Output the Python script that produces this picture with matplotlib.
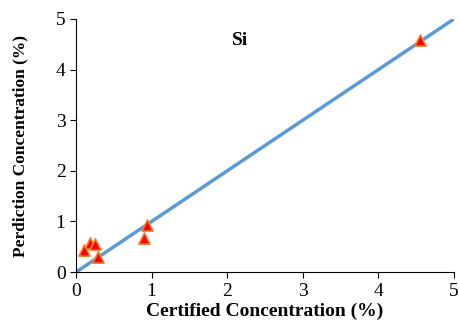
import matplotlib
matplotlib.use("Agg")
import matplotlib.pyplot as plt

certified = [4.55, 0.94, 0.90, 0.29, 0.19, 0.25, 0.11]
predicted = [4.58, 0.93, 0.67, 0.30, 0.58, 0.55, 0.43]
fit_x = [0, 5]
fit_y = [0, 5]
ticks = [0, 1, 2, 3, 4, 5]

plt.rcParams['font.family'] = ['Liberation Serif', 'DejaVu Serif']

fig = plt.figure(figsize=(4.59, 3.22), dpi=100)
ax = fig.add_axes([0.1656, 0.155, 0.8234, 0.786])

ax.plot(fit_x, fit_y, color='#5B9BD5', linewidth=2.5, zorder=2)
ax.scatter(certified, predicted, marker='^', s=65, color='#FF0000',
           edgecolors='#F08030', linewidths=1.2, zorder=3)

ax.set_xlim(0, 5)
ax.set_ylim(0, 5)
ax.set_xticks(ticks)
ax.set_yticks(ticks)
ax.tick_params(direction='out', length=4, labelsize=14, width=0.8)
for s in ['top', 'right']:
    ax.spines[s].set_visible(False)
ax.set_xlabel('Certified Concentration (%)', fontsize=14, fontweight='bold', labelpad=2)
ax.set_ylabel('Perdiction Concentration (%)', fontsize=12.5, fontweight='bold', labelpad=20)
ax.text(2.17, 4.58, 'Si', fontsize=14, fontweight='bold', ha='center', va='center')

fig.savefig('out.png', dpi=100)
